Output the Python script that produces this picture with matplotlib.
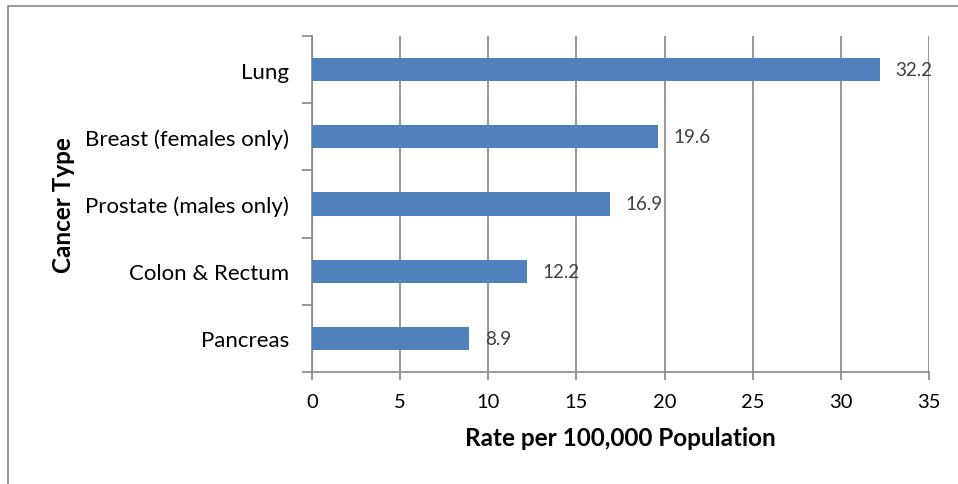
import matplotlib
matplotlib.use("Agg")
import matplotlib.pyplot as plt
from matplotlib.patches import Rectangle

categories = ["Lung", "Breast (females only)", "Prostate (males only)", "Colon & Rectum", "Pancreas"]
values = [32.2, 19.6, 16.9, 12.2, 8.9]
xticks = [0, 5, 10, 15, 20, 25, 30, 35]

plt.rcParams['font.family'] = ['Lato', 'DejaVu Sans']

W, H = 958, 485
fig = plt.figure(figsize=(W / 100, H / 100), dpi=100)

# outer chart border
fig.patches.append(Rectangle((8 / W, -0.1), 1.2, (H - 7) / H + 0.1, transform=fig.transFigure,
                             fill=False, edgecolor='#868686', linewidth=1.2))

ax = fig.add_axes([312 / W, (H - 373) / H, (929 - 312) / W, (373 - 37) / H])
grid_c = '#868686'
n = len(categories)
ypos = list(range(n))[::-1]
ax.barh(ypos, values, height=0.345, color='#4F81BD', zorder=3)
for y, v in zip(ypos, values):
    ax.text(v + 0.9, y, f"{v}", va='center', ha='left', fontsize=13.5, color='#404040', zorder=4)

ax.set_xlim(0, 35)
ax.set_ylim(-0.5, n - 0.5)
ax.set_xticks(xticks)
ax.set_xticklabels([str(t) for t in xticks], fontsize=14.5)
ax.set_yticks(ypos)
ax.set_yticklabels(categories, fontsize=16)
ax.tick_params(axis='y', length=0, pad=16.5)
ax.set_yticks([i - 0.5 for i in range(n + 1)], minor=True)
ax.tick_params(axis='y', which='minor', length=7, color=grid_c, width=1.2, direction='out')
ax.tick_params(axis='x', length=6, color=grid_c, width=1.2, direction='out', pad=9)
ax.grid(axis='x', color=grid_c, linewidth=1.2, zorder=1)
for s in ['top', 'right']:
    ax.spines[s].set_visible(False)
for s in ['left', 'bottom']:
    ax.spines[s].set_color(grid_c)
    ax.spines[s].set_linewidth(1.2)

ax.set_xlabel("Rate per 100,000 Population", fontsize=17.5, fontweight='bold', labelpad=12)
ax.set_ylabel("Cancer Type", fontsize=17.5, fontweight='bold', labelpad=7)

fig.savefig("out.png", dpi=100)
